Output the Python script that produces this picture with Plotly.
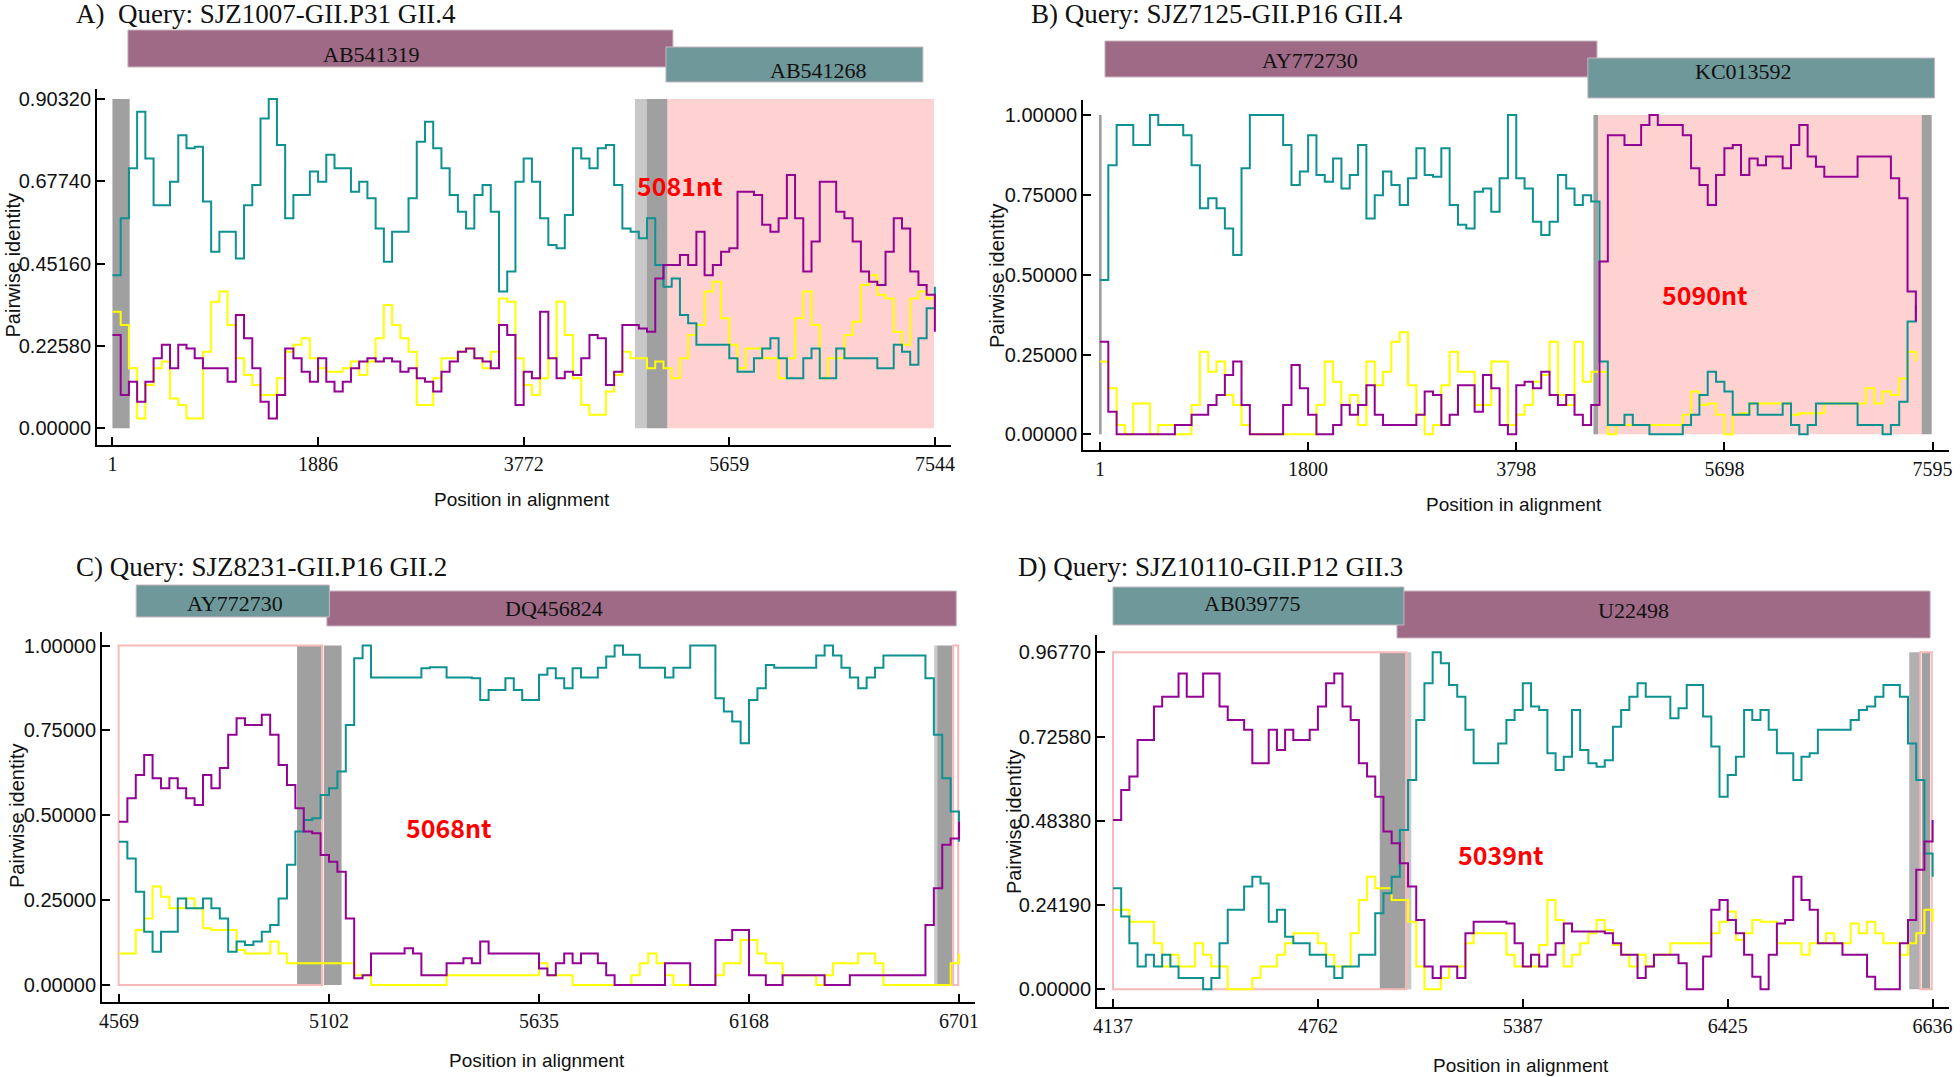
import plotly.graph_objects as go

# ---------------- data (window index 0..100 along each query) ----------------
WINDOW = list(range(101))

A_TEAL = [0.420, 0.576, 0.713, 0.868, 0.740, 0.612, 0.612, 0.676, 0.804, 0.768,
          0.772, 0.622, 0.484, 0.539, 0.539, 0.466, 0.612, 0.667, 0.850, 0.903,
          0.777, 0.576, 0.640, 0.640, 0.704, 0.676, 0.750, 0.713, 0.713, 0.649,
          0.676, 0.631, 0.548, 0.457, 0.539, 0.539, 0.631, 0.786, 0.841, 0.768,
          0.713, 0.640, 0.594, 0.548, 0.640, 0.667, 0.594, 0.375, 0.430, 0.676,
          0.740,
          0.676, 0.576, 0.503, 0.494, 0.585, 0.768, 0.740, 0.713, 0.768, 0.777,
          0.667, 0.548, 0.539, 0.521, 0.576, 0.448, 0.388, 0.411, 0.311, 0.288,
          0.229, 0.229, 0.229, 0.229, 0.192, 0.155, 0.155, 0.192, 0.219, 0.247,
          0.192, 0.137, 0.137, 0.192, 0.219, 0.137, 0.137, 0.219, 0.192, 0.192,
          0.192, 0.192, 0.165, 0.165, 0.229, 0.210, 0.174, 0.247, 0.329, 0.388]
A_PURPLE = [0.256, 0.091, 0.128, 0.073, 0.128, 0.192, 0.229, 0.165, 0.229, 0.219,
            0.192, 0.165, 0.165, 0.165, 0.128, 0.311, 0.247, 0.165, 0.073, 0.027,
            0.091, 0.219, 0.192, 0.155, 0.128, 0.192, 0.128, 0.101, 0.128, 0.165,
            0.183, 0.192, 0.183, 0.192, 0.183, 0.155, 0.165, 0.137, 0.128, 0.101,
            0.155, 0.183, 0.210, 0.219, 0.192, 0.183, 0.165, 0.283, 0.256, 0.064,
            0.155,
            0.137, 0.320, 0.192, 0.137, 0.155, 0.146, 0.192, 0.256, 0.247, 0.119,
            0.155, 0.283, 0.283, 0.274, 0.265, 0.411, 0.448, 0.448, 0.475, 0.448,
            0.539, 0.420, 0.448, 0.484, 0.494, 0.649, 0.649, 0.640, 0.558, 0.539,
            0.576, 0.695, 0.576, 0.430, 0.512, 0.676, 0.676, 0.594, 0.576, 0.512,
            0.430, 0.402, 0.393, 0.484, 0.576, 0.548, 0.430, 0.393, 0.366, 0.265]
A_YELLOW = [0.320, 0.283, 0.165, 0.027, 0.119, 0.165, 0.183, 0.082, 0.064, 0.027,
            0.027, 0.210, 0.347, 0.375, 0.283, 0.192, 0.146, 0.119, 0.091, 0.091,
            0.137, 0.210, 0.229, 0.247, 0.192, 0.165, 0.155, 0.155, 0.165, 0.183,
            0.146, 0.183, 0.247, 0.338, 0.283, 0.247, 0.210, 0.064, 0.064, 0.137,
            0.192, 0.192, 0.210, 0.219, 0.192, 0.165, 0.210, 0.356, 0.347, 0.192,
            0.119,
            0.091, 0.137, 0.192, 0.347, 0.256, 0.137, 0.064, 0.037, 0.037, 0.101,
            0.146, 0.210, 0.192, 0.192, 0.165, 0.183, 0.165, 0.137, 0.192, 0.256,
            0.283, 0.375, 0.402, 0.302, 0.229, 0.165, 0.219, 0.219, 0.192, 0.192,
            0.137, 0.192, 0.302, 0.375, 0.283, 0.137, 0.192, 0.192, 0.256, 0.292,
            0.393, 0.420, 0.366, 0.356, 0.265, 0.229, 0.356, 0.375, 0.356, 0.320]

B_TEAL = [0.483, 0.843, 0.969, 0.969, 0.906, 0.906, 1.000, 0.969, 0.969, 0.969,
          0.937, 0.843, 0.708, 0.739, 0.708, 0.645, 0.562, 0.833, 1.000, 1.000,
          1.000, 1.000, 0.906, 0.781, 0.823, 0.937, 0.812, 0.791, 0.864, 0.770,
          0.812, 0.906, 0.676, 0.749, 0.823, 0.781, 0.718, 0.802, 0.896, 0.812,
          0.807, 0.896, 0.718, 0.656, 0.645, 0.760, 0.770, 0.697, 0.802, 1.000,
          0.802,
          0.770, 0.666, 0.624, 0.666, 0.812, 0.770, 0.718, 0.749, 0.729, 0.228,
          0.029, 0.029, 0.061, 0.029, 0.029, 0.000, 0.000, 0.000, 0.000, 0.029,
          0.061, 0.123, 0.196, 0.165, 0.134, 0.061, 0.061, 0.097, 0.061, 0.061,
          0.061, 0.097, 0.029, 0.000, 0.029, 0.097, 0.097, 0.097, 0.097, 0.097,
          0.029, 0.029, 0.029, 0.000, 0.029, 0.102, 0.353, 0.405]
B_PURPLE = [0.290, 0.071, 0.000, 0.000, 0.000, 0.000, 0.000, 0.000, 0.000, 0.029,
            0.029, 0.061, 0.061, 0.092, 0.123, 0.186, 0.228, 0.092, 0.000, 0.000,
            0.000, 0.000, 0.092, 0.217, 0.144, 0.061, 0.000, 0.000, 0.029, 0.092,
            0.061, 0.092, 0.154, 0.061, 0.029, 0.029, 0.029, 0.029, 0.061, 0.134,
            0.123, 0.029, 0.061, 0.154, 0.154, 0.071, 0.186, 0.144, 0.029, 0.000,
            0.154,
            0.165, 0.144, 0.196, 0.123, 0.092, 0.123, 0.061, 0.029, 0.092, 0.541,
            0.937, 0.937, 0.906, 0.906, 0.969, 1.000, 0.969, 0.969, 0.969, 0.937,
            0.833, 0.781, 0.718, 0.812, 0.896, 0.906, 0.812, 0.864, 0.843, 0.870,
            0.870, 0.833, 0.906, 0.969, 0.870, 0.838, 0.807, 0.807, 0.807, 0.807,
            0.870, 0.870, 0.870, 0.870, 0.802, 0.739, 0.447, 0.353]
B_YELLOW = [0.228, 0.144, 0.029, 0.000, 0.097, 0.097, 0.000, 0.029, 0.029, 0.000,
            0.000, 0.092, 0.259, 0.196, 0.228, 0.123, 0.092, 0.029, 0.000, 0.000,
            0.000, 0.000, 0.000, 0.000, 0.000, 0.000, 0.092, 0.228, 0.165, 0.092,
            0.123, 0.029, 0.228, 0.154, 0.196, 0.290, 0.320, 0.154, 0.061, 0.000,
            0.029, 0.154, 0.259, 0.196, 0.196, 0.092, 0.092, 0.228, 0.228, 0.029,
            0.061,
            0.092, 0.165, 0.186, 0.290, 0.123, 0.092, 0.290, 0.165, 0.196, 0.196,
            0.000, 0.029, 0.029, 0.029, 0.029, 0.029, 0.029, 0.029, 0.029, 0.061,
            0.134, 0.092, 0.097, 0.061, 0.000, 0.061, 0.066, 0.097, 0.097, 0.097,
            0.097, 0.097, 0.061, 0.066, 0.066, 0.066, 0.097, 0.097, 0.097, 0.097,
            0.097, 0.144, 0.097, 0.134, 0.123, 0.175, 0.259, 0.228]

C_TEAL = [0.422, 0.373, 0.275, 0.157, 0.098, 0.157, 0.157, 0.255, 0.226, 0.226,
          0.255, 0.226, 0.196, 0.098, 0.128, 0.118, 0.128, 0.157, 0.177, 0.255,
          0.354, 0.452, 0.486, 0.491, 0.560, 0.580, 0.629, 0.766, 0.963, 1.000,
          0.906, 0.906, 0.906, 0.906, 0.906, 0.906, 0.933, 0.936, 0.936, 0.906,
          0.906, 0.906, 0.904, 0.840, 0.869, 0.869, 0.904, 0.869, 0.840, 0.840,
          0.914,
          0.933, 0.904, 0.874, 0.933, 0.906, 0.906, 0.935, 0.968, 1.000, 0.973,
          0.973, 0.935, 0.935, 0.935, 0.906, 0.935, 0.935, 1.000, 1.000, 1.000,
          0.845, 0.806, 0.776, 0.712, 0.840, 0.874, 0.943, 0.935, 0.935, 0.935,
          0.935, 0.935, 0.971, 1.000, 0.971, 0.935, 0.906, 0.874, 0.906, 0.935,
          0.971, 0.971, 0.971, 0.971, 0.971, 0.904, 0.737, 0.609, 0.511, 0.422]
C_PURPLE = [0.481, 0.550, 0.619, 0.678, 0.609, 0.580, 0.609, 0.580, 0.550, 0.530,
            0.619, 0.580, 0.639, 0.737, 0.786, 0.766, 0.766, 0.796, 0.737, 0.648,
            0.589, 0.521, 0.452, 0.447, 0.383, 0.363, 0.334, 0.196, 0.020, 0.029,
            0.093, 0.093, 0.093, 0.093, 0.108, 0.093, 0.029, 0.029, 0.029, 0.064,
            0.064, 0.079, 0.064, 0.128, 0.093, 0.093, 0.093, 0.093, 0.093, 0.093,
            0.049,
            0.029, 0.064, 0.093, 0.064, 0.093, 0.093, 0.064, 0.029, 0.000, 0.000,
            0.000, 0.000, 0.000, 0.000, 0.064, 0.064, 0.064, 0.000, 0.000, 0.000,
            0.133, 0.133, 0.162, 0.162, 0.029, 0.029, 0.000, 0.000, 0.029, 0.029,
            0.029, 0.029, 0.029, 0.000, 0.000, 0.000, 0.029, 0.029, 0.029, 0.029,
            0.029, 0.029, 0.029, 0.029, 0.029, 0.177, 0.285, 0.413, 0.432, 0.481]
C_YELLOW = [0.093, 0.093, 0.162, 0.196, 0.290, 0.260, 0.226, 0.226, 0.255, 0.226,
            0.167, 0.162, 0.162, 0.162, 0.103, 0.093, 0.093, 0.093, 0.128, 0.093,
            0.064, 0.064, 0.064, 0.064, 0.064, 0.064, 0.064, 0.064, 0.029, 0.029,
            0.000, 0.000, 0.000, 0.000, 0.000, 0.000, 0.000, 0.000, 0.000, 0.029,
            0.029, 0.029, 0.029, 0.029, 0.029, 0.029, 0.029, 0.029, 0.029, 0.029,
            0.064,
            0.029, 0.029, 0.029, 0.000, 0.000, 0.000, 0.000, 0.000, 0.000, 0.000,
            0.029, 0.064, 0.093, 0.064, 0.029, 0.000, 0.000, 0.000, 0.000, 0.000,
            0.029, 0.064, 0.064, 0.133, 0.133, 0.093, 0.064, 0.064, 0.029, 0.029,
            0.029, 0.029, 0.000, 0.029, 0.064, 0.064, 0.064, 0.093, 0.093, 0.064,
            0.000, 0.000, 0.000, 0.000, 0.000, 0.000, 0.000, 0.000, 0.064, 0.093]

D_TEAL = [0.290, 0.209, 0.132, 0.065, 0.099, 0.065, 0.099, 0.065, 0.032, 0.032,
          0.032, 0.000, 0.032, 0.132, 0.228, 0.228, 0.295, 0.323, 0.304, 0.194,
          0.228, 0.151, 0.132, 0.132, 0.099, 0.099, 0.065, 0.032, 0.065, 0.065,
          0.099, 0.099, 0.218, 0.276, 0.323, 0.457, 0.601, 0.773, 0.879, 0.968,
          0.936, 0.874, 0.840, 0.745, 0.649, 0.649, 0.649, 0.706, 0.773, 0.802,
          0.879,
          0.812, 0.802, 0.678, 0.630, 0.668, 0.802, 0.687, 0.649, 0.639, 0.658,
          0.754, 0.802, 0.840, 0.879, 0.840, 0.840, 0.840, 0.778, 0.807, 0.874,
          0.874, 0.783, 0.697, 0.553, 0.615, 0.668, 0.802, 0.773, 0.802, 0.745,
          0.678, 0.678, 0.601, 0.668, 0.678, 0.745, 0.745, 0.745, 0.745, 0.773,
          0.802, 0.812, 0.840, 0.874, 0.874, 0.840, 0.706, 0.601, 0.390, 0.323]
D_PURPLE = [0.486, 0.572, 0.611, 0.716, 0.716, 0.812, 0.840, 0.840, 0.907, 0.840,
            0.840, 0.907, 0.907, 0.812, 0.773, 0.773, 0.745, 0.649, 0.649, 0.745,
            0.687, 0.745, 0.716, 0.716, 0.745, 0.812, 0.879, 0.907, 0.812, 0.773,
            0.649, 0.611, 0.553, 0.453, 0.419, 0.362, 0.295, 0.199, 0.065, 0.032,
            0.065, 0.065, 0.032, 0.161, 0.194, 0.194, 0.194, 0.194, 0.189, 0.132,
            0.065,
            0.099, 0.065, 0.099, 0.132, 0.189, 0.166, 0.166, 0.166, 0.166, 0.161,
            0.132, 0.099, 0.099, 0.032, 0.065, 0.099, 0.099, 0.099, 0.075, 0.000,
            0.000, 0.094, 0.228, 0.256, 0.199, 0.161, 0.099, 0.036, 0.000, 0.099,
            0.189, 0.199, 0.323, 0.256, 0.228, 0.132, 0.132, 0.132, 0.099, 0.099,
            0.099, 0.036, 0.000, 0.000, 0.000, 0.132, 0.199, 0.343, 0.424, 0.486]
D_YELLOW = [0.228, 0.228, 0.194, 0.194, 0.194, 0.132, 0.065, 0.099, 0.065, 0.065,
            0.132, 0.099, 0.065, 0.065, 0.000, 0.000, 0.000, 0.032, 0.065, 0.065,
            0.099, 0.132, 0.161, 0.161, 0.161, 0.132, 0.099, 0.065, 0.065, 0.161,
            0.256, 0.323, 0.290, 0.290, 0.256, 0.256, 0.194, 0.065, 0.000, 0.000,
            0.032, 0.065, 0.065, 0.132, 0.161, 0.161, 0.161, 0.161, 0.099, 0.065,
            0.065,
            0.065, 0.127, 0.256, 0.199, 0.065, 0.099, 0.132, 0.161, 0.199, 0.170,
            0.127, 0.099, 0.065, 0.099, 0.065, 0.099, 0.099, 0.132, 0.132, 0.132,
            0.132, 0.132, 0.161, 0.194, 0.223, 0.142, 0.161, 0.199, 0.194, 0.194,
            0.132, 0.132, 0.132, 0.099, 0.132, 0.132, 0.161, 0.132, 0.132, 0.189,
            0.161, 0.194, 0.161, 0.132, 0.132, 0.099, 0.132, 0.161, 0.228, 0.194]

A_XTICKS = ["1", "1886", "3772", "5659", "7544"]
B_XTICKS = ["1", "1800", "3798", "5698", "7595"]
C_XTICKS = ["4569", "5102", "5635", "6168", "6701"]
D_XTICKS = ["4137", "4762", "5387", "6425", "6636"]
A_YTICKS = [0.0, 0.2258, 0.4516, 0.6774, 0.9032]
B_YTICKS = [0.0, 0.25, 0.5, 0.75, 1.0]
C_YTICKS = [0.0, 0.25, 0.5, 0.75, 1.0]
D_YTICKS = [0.0, 0.2419, 0.4838, 0.7258, 0.9677]

TITLES = ["A)  Query: SJZ1007-GII.P31 GII.4", "B) Query: SJZ7125-GII.P16 GII.4",
          "C) Query: SJZ8231-GII.P16 GII.2", "D) Query: SJZ10110-GII.P12 GII.3"]
PARENTS = [("AB541319", "AB541268"), ("AY772730", "KC013592"),
           ("AY772730", "DQ456824"), ("AB039775", "U22498")]
BREAK_LABELS = ["5081nt", "5090nt", "5068nt", "5039nt"]

# ---------------- styling ----------------
TEAL, PURPLE, YELLOW = "#0e9191", "#930393", "#ffff00"
BAR_PURPLE, BAR_TEAL = "#9e6a86", "#6e9899"
GREY, LGREY, PINK, PINK_EDGE = "#a0a0a0", "#c8c8c8", "#ffd2d2", "#f7b9b9"
SERIF = "Liberation Serif, Times New Roman, serif"
SANS = "Liberation Sans, Arial, sans-serif"
NARROW = "Liberation Sans Narrow, Arial Narrow, Liberation Sans, sans-serif"
W, H = 1960, 1077


def py(px):
    return 1 - px / H


PANELS = [
    dict(teal=A_TEAL, purple=A_PURPLE, yellow=A_YELLOW, xt=A_XTICKS, yt=A_YTICKS,
         xdom=[97, 951], ydom=[89, 445], xr=[-1.88, 101.96], yr=[-0.0458, 0.9306],
         title_xy=(74, 14), ytitle_xy=(12.5, 265), xtitle_xy=(522, 500),
         bars=[(1.88, 68.15, 30, 67, BAR_PURPLE, 31.5, 54),
               (67.3, 98.55, 47, 82, BAR_TEAL, 85.9, 70)],
         bar_order=(0, 1), lab=(63.5, 0.667),
         fills=[(0, 2.09, 0, 0.9032, GREY), (63.53, 64.95, 0, 0.9032, LGREY),
                (64.95, 67.5, 0, 0.9032, GREY), (67.5, 99.9, 0, 0.9032, PINK)],
         boxes=[]),
    dict(teal=B_TEAL, purple=B_PURPLE, yellow=B_YELLOW, xt=B_XTICKS, yt=B_YTICKS,
         xdom=[1083, 1949], ydom=[100, 450], xr=[-2.04, 101.98], yr=[-0.049, 1.047],
         title_xy=(1029, 14), ytitle_xy=(997, 276), xtitle_xy=(1514, 504),
         bars=[(0.6, 59.7, 41, 77, BAR_PURPLE, 25.2, 60),
               (58.6, 100.25, 58, 98, BAR_TEAL, 77.3, 72)],
         bar_order=(0, 1), lab=(67.3, 0.44),
         fills=[(-0.12, 0.2, 0, 1.0, GREY), (59.27, 59.87, 0, 1.0, GREY),
                (59.87, 98.7, 0, 1.0, PINK), (98.7, 99.9, 0, 1.0, GREY)],
         boxes=[]),
    dict(teal=C_TEAL, purple=C_PURPLE, yellow=C_YELLOW, xt=C_XTICKS, yt=C_YTICKS,
         xdom=[102, 975], ydom=[632, 1002], xr=[-2.02, 101.9], yr=[-0.050, 1.040],
         title_xy=(74, 567), ytitle_xy=(17, 816), xtitle_xy=(537, 1060),
         bars=[(2.05, 25.05, 585, 617, BAR_TEAL, 13.85, 603),
               (24.75, 99.67, 591, 626, BAR_PURPLE, 51.75, 608)],
         bar_order=(1, 0), lab=(33.9, 0.467),
         fills=[(21.2, 24.1, 0, 1.0, GREY), (24.4, 26.5, 0, 1.0, GREY),
                (97.05, 97.4, 0, 1.0, LGREY), (97.4, 99.2, 0, 1.0, GREY)],
         boxes=[(-0.04, 24.2, 0, 1.0), (99.3, 99.9, 0, 1.0)]),
    dict(teal=D_TEAL, purple=D_PURPLE, yellow=D_YELLOW, xt=D_XTICKS, yt=D_YTICKS,
         xdom=[1097, 1949], ydom=[635, 1007], xr=[-1.95, 102.0], yr=[-0.051, 1.0174],
         title_xy=(1016, 567), ytitle_xy=(1014, 822), xtitle_xy=(1521, 1065),
         bars=[(0.0, 35.5, 587, 625, BAR_TEAL, 17.0, 603),
               (34.65, 99.7, 591, 638, BAR_PURPLE, 63.5, 611)],
         bar_order=(1, 0), lab=(41.85, 0.389),
         fills=[(32.55, 35.7, 0, 0.9677, GREY), (35.7, 36.4, 0, 0.9677, LGREY),
                (97.15, 98.5, 0, 0.9677, "#b0b0b0"), (98.7, 99.7, 0, 0.9677, GREY)],
         boxes=[(0.0, 35.8, 0, 0.9677), (98.5, 99.9, 0, 0.9677)]),
]

fig = go.Figure()
shapes, annos = [], []


def note(x, y, text, font, xref="paper", yref="paper", **kw):
    d = dict(x=x, y=y, xref=xref, yref=yref, text=text, showarrow=False,
             xanchor="center", yanchor="middle", font=font)
    d.update(kw)
    annos.append(d)


for i, p in enumerate(PANELS, start=1):
    xa, ya = ("x", "y") if i == 1 else (f"x{i}", f"y{i}")
    xs = WINDOW[:len(p["teal"])]
    for ys, col in ((p["yellow"], YELLOW), (p["teal"], TEAL), (p["purple"], PURPLE)):
        fig.add_trace(go.Scatter(x=xs, y=ys, mode="lines", xaxis=xa, yaxis=ya,
                                 line=dict(color=col, width=2, shape="hv"),
                                 hoverinfo="skip", showlegend=False))

    # shaded breakpoint / recombinant regions
    for x0, x1, y0, y1, col in p["fills"]:
        shapes.append(dict(type="rect", xref=xa, yref=ya, x0=x0, x1=x1, y0=y0, y1=y1,
                           fillcolor=col, line=dict(width=0), layer="below"))
    for x0, x1, y0, y1 in p["boxes"]:
        shapes.append(dict(type="rect", xref=xa, yref=ya, x0=x0, x1=x1, y0=y0, y1=y1,
                           fillcolor="rgba(0,0,0,0)", line=dict(color=PINK_EDGE, width=2),
                           layer="below"))

    # parent bars on top
    for k in p["bar_order"]:
        x0, x1, t, b, col, tx, ty = p["bars"][k]
        shapes.append(dict(type="rect", xref=xa, yref="paper", x0=x0, x1=x1,
                           y0=py(b), y1=py(t), fillcolor=col,
                           line=dict(color="#c9b6c0", width=1)))
    for k, name in enumerate(PARENTS[i - 1]):
        x0, x1, t, b, col, tx, ty = p["bars"][k]
        note(tx, py(ty), name, dict(family=SERIF, size=22, color="#111"), xref=xa)

    note(p["title_xy"][0] / W, py(p["title_xy"][1]), TITLES[i - 1],
         dict(family=SERIF, size=27, color="#111"), xanchor="left")
    note(p["ytitle_xy"][0] / W, py(p["ytitle_xy"][1]), "Pairwise identity",
         dict(family=SANS, size=20, color="#111"), textangle=-90)
    note(p["xtitle_xy"][0] / W, py(p["xtitle_xy"][1]), "Position in alignment",
         dict(family=NARROW, size=19, color="#111"))
    note(p["lab"][0], p["lab"][1], BREAK_LABELS[i - 1],
         dict(family="Noto Sans CJK SC, Noto Sans, sans-serif", size=25,
              color="#ff0000", weight="bold"),
         xref=xa, yref=ya, xanchor="left")

    common = dict(showgrid=False, zeroline=False, showline=True, linecolor="black",
                  linewidth=2, ticks="inside", ticklen=8, tickwidth=1.5,
                  tickcolor="black", automargin=False)
    fig.update_layout(**{
        ("xaxis" if i == 1 else f"xaxis{i}"): dict(
            domain=[p["xdom"][0] / W, p["xdom"][1] / W], anchor=ya, range=p["xr"],
            tickmode="array", tickvals=[0, 25, 50, 75, 100], ticktext=p["xt"],
            tickfont=dict(family=SERIF, size=20, color="#111"), **common),
        ("yaxis" if i == 1 else f"yaxis{i}"): dict(
            domain=[py(p["ydom"][1]), py(p["ydom"][0])], anchor=xa, range=p["yr"],
            tickmode="array", tickvals=p["yt"], ticktext=[f"{v:.5f}" for v in p["yt"]],
            tickfont=dict(family=NARROW, size=20, color="#111"), **common),
    })

fig.update_layout(width=W, height=H, margin=dict(l=0, r=0, t=0, b=0, autoexpand=False),
                  paper_bgcolor="white", plot_bgcolor="white", showlegend=False,
                  shapes=shapes, annotations=annos)

# page body margin would otherwise shift the figure by 8px
fig.write_html("out.html", config={"displayModeBar": False},
               post_script="document.body.style.margin='0';document.body.style.padding='0';")
